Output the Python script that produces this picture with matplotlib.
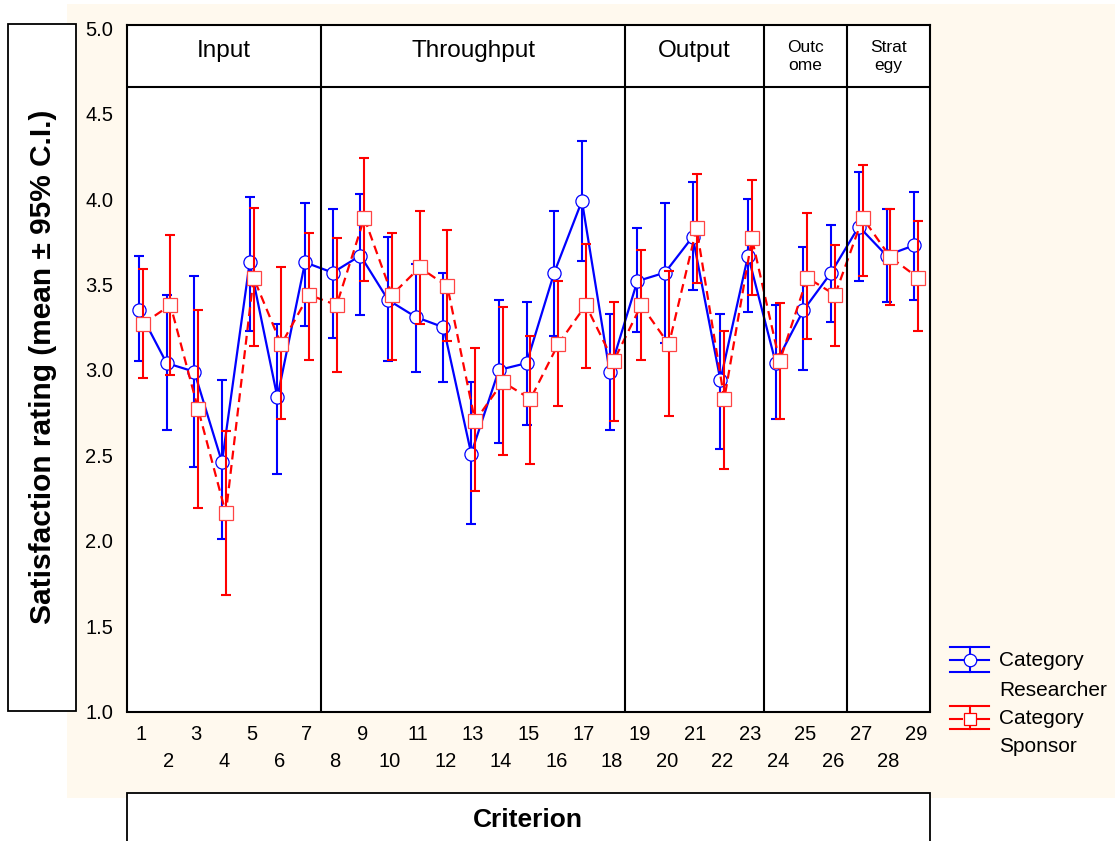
import matplotlib
matplotlib.use("Agg")
import matplotlib.pyplot as plt
from matplotlib.patches import Rectangle
from matplotlib.lines import Line2D
import numpy as np

plt.rcParams['font.family'] = ['Liberation Sans', 'DejaVu Sans']

criteria = list(range(1, 30))

# Researcher: mean and 95% CI
res_mean = [3.35, 3.04, 2.99, 2.46, 3.63, 2.84, 3.63, 3.57, 3.67, 3.41, 3.31, 3.25, 2.51, 3.00, 3.04,
            3.57, 3.99, 2.99, 3.52, 3.57, 3.78, 2.94, 3.67, 3.04, 3.35, 3.57, 3.84, 3.67, 3.73]
res_lo = [3.05, 2.65, 2.43, 2.01, 3.23, 2.39, 3.26, 3.19, 3.32, 3.05, 2.99, 2.93, 2.10, 2.57, 2.68,
          3.20, 3.64, 2.65, 3.22, 3.16, 3.47, 2.54, 3.34, 2.71, 3.00, 3.28, 3.52, 3.40, 3.41]
res_hi = [3.67, 3.44, 3.55, 2.94, 4.01, 3.27, 3.98, 3.94, 4.03, 3.78, 3.62, 3.57, 2.93, 3.41, 3.40,
          3.93, 4.34, 3.33, 3.83, 3.98, 4.10, 3.33, 4.00, 3.38, 3.72, 3.85, 4.16, 3.94, 4.04]

# Sponsor: mean and 95% CI
spo_mean = [3.27, 3.38, 2.77, 2.16, 3.54, 3.15, 3.44, 3.38, 3.89, 3.44, 3.60, 3.49, 2.70, 2.93, 2.83,
            3.15, 3.38, 3.05, 3.38, 3.15, 3.83, 2.83, 3.77, 3.05, 3.54, 3.44, 3.89, 3.66, 3.54]
spo_lo = [2.95, 2.97, 2.19, 1.68, 3.14, 2.71, 3.06, 2.99, 3.52, 3.06, 3.27, 3.17, 2.29, 2.50, 2.45,
          2.79, 3.01, 2.70, 3.06, 2.73, 3.51, 2.42, 3.44, 2.71, 3.18, 3.14, 3.55, 3.38, 3.23]
spo_hi = [3.59, 3.79, 3.35, 2.64, 3.95, 3.60, 3.80, 3.77, 4.24, 3.80, 3.93, 3.82, 3.13, 3.37, 3.20,
          3.52, 3.74, 3.40, 3.70, 3.58, 4.15, 3.23, 4.11, 3.39, 3.92, 3.73, 4.20, 3.94, 3.87]

# panels: (first criterion, last criterion, title, font size)
panels = [(1, 7, 'Input', 17.5), (8, 18, 'Throughput', 17.5), (19, 23, 'Output', 17.5),
          (24, 26, 'Outc\nome', 12.5), (27, 29, 'Strat\negy', 12.5)]

W, H = 1115, 841
fig = plt.figure(figsize=(W / 100, H / 100), dpi=100, facecolor='white')


def fx(x):
    return x / W


def fy(y):
    return 1 - y / H


# cream background and boxes
fig.patches.append(Rectangle((fx(67), fy(798)), 1 - fx(67), (798 - 4) / H,
                             transform=fig.transFigure, facecolor='#FFF9EE', edgecolor='none', zorder=-2))
fig.patches.append(Rectangle((fx(8), fy(711)), (76 - 8) / W, (711 - 24) / H,
                             transform=fig.transFigure, facecolor='white', edgecolor='black', lw=1.3, zorder=-1))
fig.patches.append(Rectangle((fx(127), fy(860)), (930 - 127) / W, (860 - 793) / H,
                             transform=fig.transFigure, facecolor='white', edgecolor='black', lw=1.3, zorder=-1))

fig.text(fx(43), fy(367), 'Satisfaction rating (mean \u00b1 95% C.I.)', rotation=90,
         ha='center', va='center', fontsize=21.5, fontweight='bold', zorder=3)
fig.text(fx(528), fy(820), 'Criterion', ha='center', va='center', fontsize=19, fontweight='bold', zorder=3)

ax = fig.add_axes([fx(127), fy(711.5), (930 - 127) / W, (711.5 - 25) / H])
ax.set_zorder(2)
ax.set_facecolor('white')

x = np.array(criteria, dtype=float)
off = 0.07
blue, red = '#0000FF', '#FF0000'

rm, sm = np.array(res_mean), np.array(spo_mean)
ax.errorbar(x - off, rm, yerr=[rm - np.array(res_lo), np.array(res_hi) - rm], fmt='none',
            ecolor=blue, elinewidth=1.5, capsize=3.5, capthick=1.5, zorder=3)
ax.plot(x - off, rm, color=blue, lw=1.6, marker='o', ms=9.5, mfc='white', mec=blue, mew=0.9, zorder=4)
ax.errorbar(x + off, sm, yerr=[sm - np.array(spo_lo), np.array(spo_hi) - sm], fmt='none',
            ecolor=red, elinewidth=1.5, capsize=3.5, capthick=1.5, zorder=5)
ax.plot(x + off, sm, color=red, lw=1.6, ls=(0, (4, 2.5)), marker='s', ms=9.5, mfc='white',
        mec='#FF4444', mew=0.9, zorder=6)

ax.set_xlim(0.5, 29.5)
ax.set_ylim(1.0, 5.02)

# header strip and panel dividers
header_y = 4.655
ax.axhline(header_y, color='black', lw=1.5, zorder=7)
for first, last, title, fs in panels:
    if last < 29:
        ax.axvline(last + 0.5, color='black', lw=1.5, zorder=7)
    cx = (first + last) / 2
    if '\n' in title:
        ax.text(cx, 4.838, title, ha='center', va='center', fontsize=fs, linespacing=1.25)
    else:
        ax.text(cx, 4.833, title, ha='center', va='baseline', fontsize=fs)

ax.set_yticks(np.arange(1.0, 5.01, 0.5))
ax.set_yticklabels(['%.1f' % v for v in np.arange(1.0, 5.01, 0.5)])
ax.set_xticks([c for c in criteria if c % 2 == 1])
ax.set_xticklabels([str(c) for c in criteria if c % 2 == 1])
ax.set_xticks([c for c in criteria if c % 2 == 0], minor=True)
ax.set_xticklabels([str(c) for c in criteria if c % 2 == 0], minor=True)
ax.tick_params(axis='y', length=0, pad=10, labelsize=14.5)
ax.tick_params(axis='x', which='major', length=0, pad=10, labelsize=14.5)
ax.tick_params(axis='x', which='minor', length=0, pad=29, labelsize=14.5)
for s in ax.spines.values():
    s.set_linewidth(1.5)

# legend drawn by hand
lax = fig.add_axes([0, 0, 1, 1], zorder=10)
lax.set_xlim(0, W)
lax.set_ylim(H, 0)
lax.axis('off')
for col, top, mid, bot, dashed, mk in [(blue, 647, 660, 672, False, 'o'), (red, 706, 719, 729, True, 's')]:
    lax.add_line(Line2D([950, 989], [top, top], color=col, lw=1.5))
    lax.add_line(Line2D([950, 989], [bot, bot], color=col, lw=1.5))
    lax.add_line(Line2D([970, 970], [top, bot], color=col, lw=1.5))
    if dashed:
        lax.add_line(Line2D([950, 962], [mid, mid], color=col, lw=1.5))
        lax.add_line(Line2D([977, 989], [mid, mid], color=col, lw=1.5))
    else:
        lax.add_line(Line2D([950, 989], [mid, mid], color=col, lw=1.5))
    lax.plot([970], [mid], marker=mk, ms=9, mfc='white', mec=col, mew=0.9)
fig.text(fx(999), fy(660), 'Category', ha='left', va='center', fontsize=15)
fig.text(fx(999), fy(690), 'Researcher', ha='left', va='center', fontsize=15)
fig.text(fx(999), fy(719), 'Category', ha='left', va='center', fontsize=15)
fig.text(fx(999), fy(747), 'Sponsor', ha='left', va='center', fontsize=15)

fig.savefig('out.png', dpi=100, facecolor=fig.get_facecolor())
